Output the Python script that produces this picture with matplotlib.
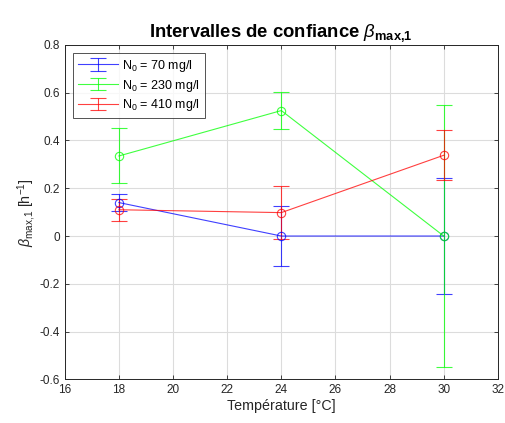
import matplotlib.pyplot as plt
from matplotlib.lines import Line2D
import numpy as np

plt.rcParams['font.family'] = ['Liberation Sans', 'DejaVu Sans']
plt.rcParams['mathtext.fontset'] = 'custom'
plt.rcParams['mathtext.rm'] = 'Liberation Sans'
plt.rcParams['mathtext.it'] = 'Liberation Sans:italic'
plt.rcParams['mathtext.bf'] = 'Liberation Sans:bold'

temps = [18, 24, 30]
labels = ['N$_0$ = 70 mg/l', 'N$_0$ = 230 mg/l', 'N$_0$ = 410 mg/l']
beta_70 = [0.14, 0.0, 0.0]
err_70 = [0.035, 0.125, 0.243]
beta_230 = [0.335, 0.525, 0.0]
err_230 = [0.115, 0.078, 0.55]
beta_410 = [0.11, 0.098, 0.338]
err_410 = [0.046, 0.112, 0.104]
colors = ['#0000ff', '#00ff00', '#ff0000']

fig = plt.figure(figsize=(5.06, 4.23), dpi=100)
ax = fig.add_axes([0.128, 0.103, 0.856, 0.791])

for vals, errs, lab, col in zip([beta_70, beta_230, beta_410],
                                [err_70, err_230, err_410], labels, colors):
    ax.errorbar(temps, vals, yerr=errs, color=col, marker='o', mfc='none',
                ms=6, mew=0.8, lw=0.8, elinewidth=0.8, capsize=6, capthick=0.8,
                label=lab, alpha=0.75)

ax.set_xlim(16, 32)
ax.set_ylim(-0.6, 0.8)
ax.set_xticks(np.arange(16, 33, 2))
ax.set_yticks(np.round(np.arange(-0.6, 0.81, 0.2), 1))
ax.set_yticklabels(['-0.6', '-0.4', '-0.2', '0', '0.2', '0.4', '0.6', '0.8'])
ax.grid(True, color='#dcdcdc', lw=0.8)
ax.set_axisbelow(True)
ax.tick_params(direction='in', length=3, labelsize=8.5, colors='#262626',
               top=True, right=True, width=0.6)
for s in ax.spines.values():
    s.set_color('#262626')
    s.set_linewidth(0.7)

ax.set_xlabel('Température [°C]', fontsize=10.3, color='#262626', labelpad=2)
ax.set_ylabel(r'$\beta_{\mathrm{max{,}1}}$ [h$^{-1}$]', fontsize=10.3,
              color='#262626', labelpad=1)
ax.set_title(r'Intervalles de confiance $\beta_{\mathbf{max{,}1}}$',
             fontsize=13.3, fontweight='bold', pad=6)

leg = ax.legend(loc='upper left', fontsize=9, frameon=True, fancybox=False,
                edgecolor='#262626', borderpad=0.4, handlelength=3.2,
                handletextpad=0.3, labelspacing=0.3,
                bbox_to_anchor=(0.005, 0.995))
leg.get_frame().set_linewidth(0.7)
# legend glyphs without the circle marker
for ln in leg.findobj(Line2D):
    if ln.get_marker() == 'o':
        ln.set_visible(False)

fig.savefig('out.png', dpi=100, facecolor='white')
